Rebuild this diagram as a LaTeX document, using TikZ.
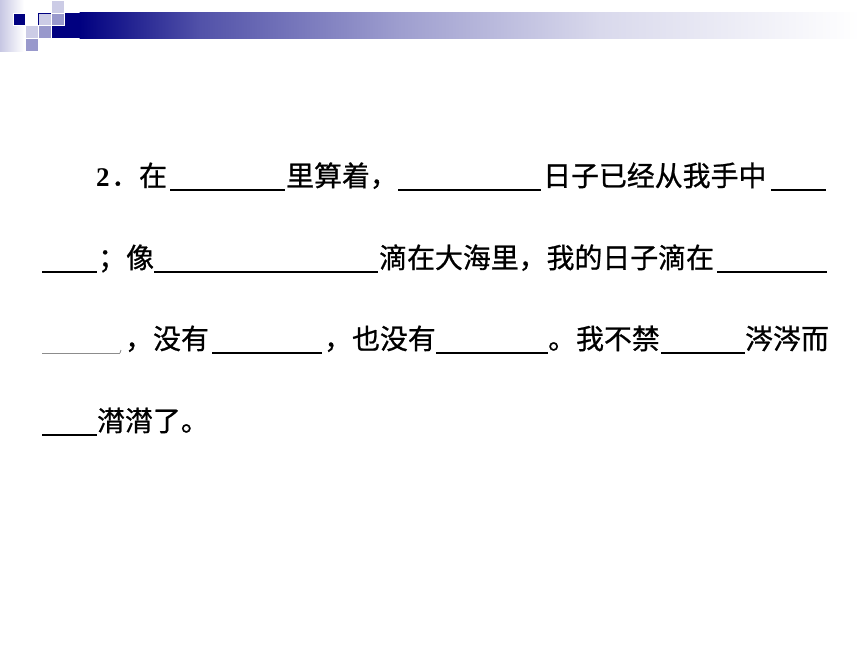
\documentclass[tikz,border=0pt]{standalone}
\usepackage{fontspec}
\setmainfont{Liberation Serif}
\newfontfamily\cjk[FakeBold=0.8]{Noto Sans CJK SC}
\definecolor{navyA}{RGB}{0,0,128}
\definecolor{lavL}{RGB}{204,204,230}
\definecolor{lavM}{RGB}{153,153,204}
\begin{document}
\begin{tikzpicture}[x=1pt,y=-1pt,
  txt/.style={anchor=base west,inner sep=0pt,font=\cjk\fontsize{27.9}{28}\selectfont},
  num/.style={anchor=base west,inner sep=0pt,font=\bfseries\fontsize{27}{27}\selectfont},
  blank/.style={line width=1.6pt,black},
  fblank/.style={line width=0.9pt,black!45},
  sq/.style={draw=white,line width=0.5pt}]
\useasboundingbox (0,0) rectangle (860,645);
\fill[white] (0,0) rectangle (860,645);
% left faint gradient
\shade[left color=navyA!22!white,right color=white] (0,0) rectangle (24,51);
% bar
\fill[navyA] (51.2,12.8) rectangle (80,38.4);
\shade[left color=navyA,right color=navyA!68!white] (79.5,12.8) rectangle (200,38.4);
\shade[left color=navyA!68!white,right color=navyA!38!white] (199.5,12.8) rectangle (400,38.4);
\shade[left color=navyA!38!white,right color=navyA!15!white] (399.5,12.8) rectangle (600,38.4);
\shade[left color=navyA!15!white,right color=white] (599.5,12.8) rectangle (860,38.4);
% squares
\fill[navyA,sq] (12.8,12.8) rectangle (25.6,25.6);
\filldraw[fill=lavL,draw=navyA,line width=0.8pt] (38.8,13.2) rectangle (51,25.2);
\fill[lavL,sq] (51.2,0) rectangle (64,12.8);
\fill[lavM,sq] (51.2,12.8) rectangle (64,25.6);
\fill[lavL,sq] (25.6,25.6) rectangle (38.4,38.4);
\fill[lavM,sq] (38.4,25.6) rectangle (51.2,38.4);
\fill[lavM,sq] (25.6,38.4) rectangle (38.4,51.2);
% line 1
\node[num] (n2) at (96,186) {2};
\node[txt] (t1a) at (111,186) {．在};
\draw[blank] (170,190) -- (285,190);
\node[txt] (t1b) at (286,186) {里算着，};
\draw[blank] (398,190) -- (541,190);
\node[txt] (t1c) at (543,186) {日子已经从我手中};
\draw[blank] (771,190) -- (826,190);
% line 2
\draw[blank] (42,272) -- (97,272);
\node[txt] (t2a) at (98,268) {；像};
\draw[blank] (154,272) -- (378,272);
\node[txt] (t2b) at (379,268) {滴在大海里，我的日子滴在};
\draw[blank] (717,272) -- (827,272);
% line 3
\draw[fblank] (42,353) -- (120,353);
\draw[fblank] (120,353) -- (121,350);
\node[txt] (t3a) at (125,349) {，没有};
\draw[blank] (212,353) -- (322,353);
\node[txt] (t3b) at (324,349) {，也没有};
\draw[blank] (436,353) -- (548,353);
\node[txt] (t3c) at (548,349) {。我不禁};
\draw[blank] (661,353) -- (745,353);
\node[txt] (t3d) at (745,349) {涔涔而};
% line 4
\draw[blank] (42,435) -- (97,435);
\node[txt] (t4a) at (97,431) {潸潸了。};
\end{tikzpicture}
\end{document}
